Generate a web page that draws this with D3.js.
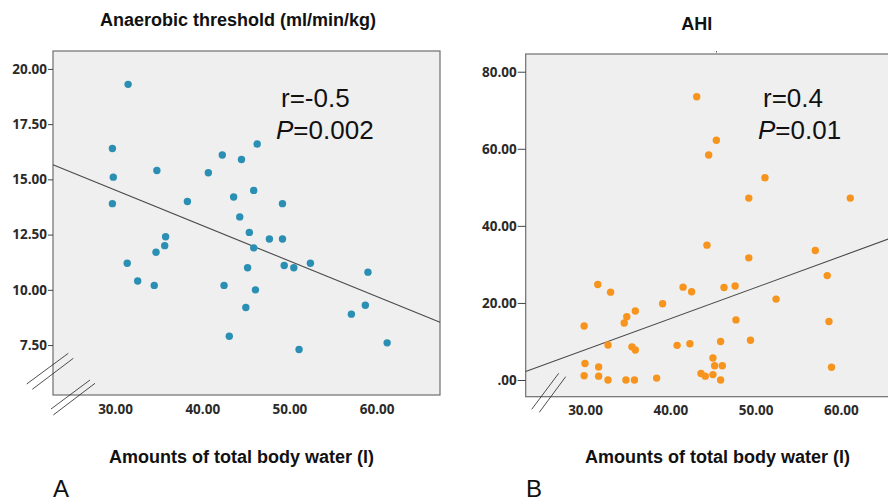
<!DOCTYPE html>
<html>
<head>
<meta charset="utf-8">
<script src="https://cdn.jsdelivr.net/npm/d3@7"></script>
<style>
  body { margin: 0; background: #fff; }
  .tick text { font-family: "Open Sans", sans-serif; font-weight: 700; font-size: 13.5px; fill: #2a2a2a; }
  .title, .xlab { font-family: "Liberation Sans", Arial, sans-serif; font-weight: 700; font-size: 18px; fill: #111; }
  .stat { font-family: "Liberation Sans", Arial, sans-serif; font-size: 26px; fill: #111; }
  .panel { font-family: "Liberation Sans", Arial, sans-serif; font-size: 24px; fill: #111; }
</style>
</head>
<body>
<div id="graph"></div>
<script>
// panel A: total body water (l) vs anaerobic threshold
var waterA = [31.5, 29.7, 29.8, 29.7, 34.8, 38.3, 40.7, 42.3, 44.5, 46.3, 43.6, 45.9, 49.2, 44.3,
              35.8, 35.7, 34.7, 31.4, 32.6, 34.5, 42.5, 43.1, 45.4, 45.9, 45.2, 46.1, 45.0,
              47.7, 49.2, 49.4, 50.5, 52.4, 51.1, 57.1, 58.7, 59.0, 61.2];
var thresholdA = [19.3, 16.4, 15.1, 13.9, 15.4, 14.0, 15.3, 16.1, 15.9, 16.6, 14.2, 14.5, 13.9, 13.3,
                  12.4, 12.0, 11.7, 11.2, 10.4, 10.2, 10.2, 7.9, 12.6, 11.9, 11.0, 10.0, 9.2,
                  12.3, 12.3, 11.1, 11.0, 11.2, 7.3, 8.9, 9.3, 10.8, 7.6];

// panel B: total body water (l) vs AHI
var waterB = [43.1, 45.4, 44.5, 51.1, 49.2, 61.1, 44.3, 57.0, 49.2, 58.4, 52.4, 31.5, 33.0, 41.5,
              42.5, 46.3, 47.6, 39.1, 35.9, 34.9, 34.6, 29.9, 47.7, 58.6, 32.7, 35.5, 35.9,
              40.8, 42.3, 45.9, 49.4, 45.0, 45.2, 46.1, 58.9, 30.0, 31.6, 29.9, 31.6, 32.7,
              34.8, 35.8, 38.4, 43.6, 44.1, 45.0, 45.9];
var ahiB = [73.5, 62.2, 58.4, 52.5, 47.2, 47.2, 35.0, 33.6, 31.7, 27.1, 21.0, 24.8, 22.8, 24.1,
            22.9, 24.0, 24.4, 19.8, 17.9, 16.4, 14.8, 14.0, 15.6, 15.2, 9.1, 8.6, 7.8,
            9.0, 9.4, 10.0, 10.3, 5.7, 3.7, 3.7, 3.3, 4.3, 3.4, 1.1, 1.0, 0.0,
            0.0, 0.0, 0.5, 1.7, 1.0, 1.4, 0.0];

// fitted lines: [intercept, slope]
var fitA = [19.34, -0.1607];
var fitB = [-16.46, 0.809];

var ticksX = [30, 40, 50, 60];
var ticksAY = [7.5, 10, 12.5, 15, 17.5, 20];
var ticksBY = [0, 20, 40, 60, 80];

var svg = d3.select("#graph")
  .append("svg")
    .attr("width", 888)
    .attr("height", 502);

function fmt(d) {
  return d3.format(".2f")(d).replace(/^0\./, ".");
}

function drawPanel(p) {
  var x = d3.scaleLinear().domain(p.xDomain).range([p.left, p.right]);
  var y = d3.scaleLinear().domain(p.yDomain).range([p.bottom, p.top]);
  var g = svg.append("g");

  // plot background and frame
  g.append("rect")
    .attr("x", p.left).attr("y", p.top)
    .attr("width", p.right - p.left).attr("height", p.bottom - p.top)
    .attr("fill", "#efefef")
    .attr("stroke", "#6e6e6e")
    .attr("stroke-width", 1.2);

  // y axis
  var ya = g.append("g")
    .attr("transform", "translate(" + p.left + ",0)")
    .call(d3.axisLeft(y).tickValues(p.yTicks).tickFormat(fmt).tickSize(p.tickLen).tickPadding(1));
  ya.select(".domain").remove();
  ya.selectAll(".tick line").attr("stroke", "#444");

  // x axis (labels only)
  var xa = g.append("g")
    .attr("transform", "translate(0," + p.bottom + ")")
    .call(d3.axisBottom(x).tickValues(ticksX).tickFormat(fmt).tickSize(0).tickPadding(9));
  xa.select(".domain").remove();

  // regression line
  g.append("path")
    .datum(p.xDomain)
    .attr("fill", "none")
    .attr("stroke", "#4a4a4a")
    .attr("stroke-width", 1.1)
    .attr("d", d3.line()
      .x(function(d) { return x(d); })
      .y(function(d) { return y(p.fit[0] + p.fit[1] * d); }));

  // points
  g.selectAll("circle")
    .data(p.xs)
    .enter().append("circle")
      .attr("cx", function(d) { return x(d); })
      .attr("cy", function(d, i) { return y(p.ys[i]); })
      .attr("r", 3.7)
      .attr("fill", p.color);

  // axis break marks
  p.breaks.forEach(function(b) {
    g.append("line")
      .attr("x1", p.left + b[0]).attr("y1", p.bottom + b[1])
      .attr("x2", p.left + b[2]).attr("y2", p.bottom + b[3])
      .attr("stroke", "#222").attr("stroke-width", 0.8);
  });

  // texts
  g.append("text").attr("class", "title")
    .attr("x", p.titleX).attr("y", p.titleY)
    .attr("text-anchor", "middle").text(p.title);
  g.append("text").attr("class", "xlab")
    .attr("x", p.xlabX).attr("y", 462.5)
    .attr("text-anchor", "middle").text("Amounts of total body water (l)");
  g.append("text").attr("class", "stat")
    .attr("x", p.statX).attr("y", 106.5).text(p.r);
  var pt = g.append("text").attr("class", "stat")
    .attr("x", p.statX - 5).attr("y", 139);
  pt.append("tspan").attr("font-style", "italic").text("P");
  pt.append("tspan").text(p.p);
  g.append("text").attr("class", "panel")
    .attr("x", p.panelX).attr("y", 496.5)
    .attr("text-anchor", "middle").text(p.panel);
}

drawPanel({
  left: 53, right: 440, top: 51, bottom: 395,
  xDomain: [22.89, 67.26], yDomain: [5.24, 20.81],
  yTicks: ticksAY, tickLen: 5,
  xs: waterA, ys: thresholdA, fit: fitA, color: "#2a8fb3",
  breaks: [[-26.3, -11, 15.3, -41.7], [-20.7, -5.7, 20.3, -36.7],
           [-2, 14, 37, -15], [0.3, 20, 42, -11.7]],
  title: "Anaerobic threshold (ml/min/kg)", titleX: 238, titleY: 26,
  xlabX: 241.5, statX: 281, r: "r=-0.5", p: "=0.002",
  panel: "A", panelX: 61
});

drawPanel({
  left: 525.7, right: 950, top: 54, bottom: 396.7,
  xDomain: [23.05, 72.79], yDomain: [-4.33, 84.6],
  yTicks: ticksBY, tickLen: 8,
  xs: waterB, ys: ahiB, fit: fitB, color: "#f7941d",
  breaks: [[6, 12.6, 33, -23.4], [13.6, 15.6, 40, -20]],
  title: "AHI", titleX: 696.7, titleY: 30,
  xlabX: 717.5, statX: 763, r: "r=0.4", p: "=0.01",
  panel: "B", panelX: 534
});

// small stray mark above panel B
svg.append("line")
  .attr("x1", 716.5).attr("y1", 51).attr("x2", 716.5).attr("y2", 52.5)
  .attr("stroke", "#555").attr("stroke-width", 1);
</script>
</body>
</html>
